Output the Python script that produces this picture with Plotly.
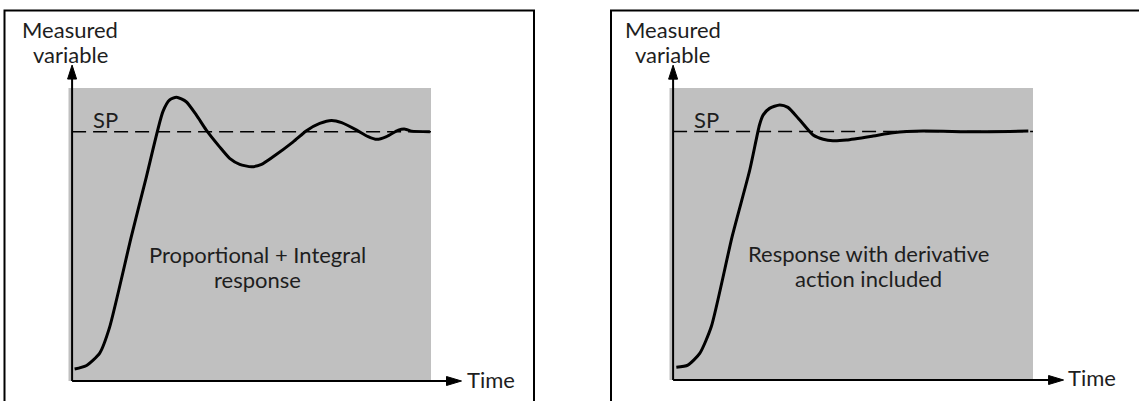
import plotly.graph_objects as go

# Proportional + Integral response (time, measured variable; SP = 1.0)
pi_time = [0.07, 0.39, 0.77, 1.04, 1.65, 2.07, 2.53, 2.72, 2.91, 3.18, 3.46, 3.74,
           4.11, 4.39, 4.67, 5.00, 5.28, 5.60, 6.16, 6.53, 6.90, 7.23, 7.51, 7.93,
           8.25, 8.49, 8.76, 9.09, 9.28, 9.46, 9.97]
pi_value = [0.048, 0.061, 0.112, 0.213, 0.579, 0.819, 1.080, 1.127, 1.138, 1.120,
            1.067, 1.006, 0.939, 0.893, 0.869, 0.859, 0.869, 0.899, 0.959, 1.004,
            1.033, 1.045, 1.036, 1.006, 0.980, 0.969, 0.980, 1.006, 1.010, 1.002,
            1.000]

# Response with derivative action included
pid_time = [0.09, 0.41, 0.74, 1.06, 1.64, 2.13, 2.40, 2.50, 2.68, 2.96, 3.19, 3.52,
            3.89, 4.17, 4.44, 4.82, 5.56, 6.11, 6.95, 8.34, 9.87]
pid_value = [0.051, 0.060, 0.107, 0.214, 0.577, 0.845, 1.026, 1.066, 1.093, 1.107,
             1.097, 1.046, 0.986, 0.969, 0.963, 0.966, 0.982, 0.995, 1.002, 0.999,
             1.002]

setpoint = 1.0
panel_titles = [["Proportional + Integral", "response"],
                ["Response with derivative", "action included"]]
y_label = ["Measured", "variable"]
x_label = "Time"
sp_label = "SP"

X_RANGE = [-0.1, 10.0]
Y_RANGE = [0.0, 1.175]
W, H = 1139, 401
FONT = "Lato"
FONT_SIZE = 22
TEXT_COLOR = "#1e1e1e"


def px_x(p):
    return p / W


def px_y(p):
    return (H - p) / H


fig = go.Figure()

for series_t, series_v, xa, ya in [(pi_time, pi_value, "x", "y"),
                                   (pid_time, pid_value, "x2", "y2")]:
    fig.add_trace(go.Scatter(x=series_t, y=series_v, mode="lines",
                             line=dict(color="black", width=3, shape="spline", smoothing=0.6),
                             xaxis=xa, yaxis=ya, showlegend=False, hoverinfo="skip"))

axis_style = dict(showgrid=False, zeroline=False, showticklabels=False, ticks="",
                  showline=False, fixedrange=True)

fig.update_layout(
    width=W, height=H,
    margin=dict(l=0, r=0, t=0, b=0),
    paper_bgcolor="white",
    plot_bgcolor="#c0c0c0",
    xaxis=dict(domain=[px_x(68.5), px_x(431)], range=X_RANGE, anchor="y", **axis_style),
    yaxis=dict(domain=[px_y(381), px_y(88)], range=Y_RANGE, anchor="x", **axis_style),
    xaxis2=dict(domain=[px_x(669.5), px_x(1033)], range=X_RANGE, anchor="y2", **axis_style),
    yaxis2=dict(domain=[px_y(380), px_y(88)], range=Y_RANGE, anchor="x2", **axis_style),
    font=dict(family=FONT, size=FONT_SIZE, color=TEXT_COLOR),
)

shapes = []
annotations = []

# Outer frames around each panel
shapes.append(dict(type="rect", xref="paper", yref="paper",
                   x0=px_x(4.5), x1=px_x(534), y0=-0.2, y1=px_y(10.5),
                   line=dict(color="black", width=2), fillcolor="rgba(0,0,0,0)"))
shapes.append(dict(type="rect", xref="paper", yref="paper",
                   x0=px_x(611), x1=1.2, y0=-0.2, y1=px_y(10.5),
                   line=dict(color="black", width=2), fillcolor="rgba(0,0,0,0)"))

x_tip = 10.85
y_tip = 1.267

# Per-panel text placement (pixel centres)
ylabel_cx = [70, 672.5]
title_cx = [257.3, 868]
title_cy = [(254.8, 279.8), (253.8, 278.8)]
time_left = [465, 1066]
time_cy = [379.8, 377.2]
sp_pos = [(0.917, 1.047), (0.93, 1.047)]

for i, suffix in enumerate(["", "2"]):
    xr = "x" + suffix
    yr = "y" + suffix
    fx0 = (0 - X_RANGE[0]) / (X_RANGE[1] - X_RANGE[0])
    fx_tip = (x_tip - X_RANGE[0]) / (X_RANGE[1] - X_RANGE[0])
    fy_tip = (y_tip - Y_RANGE[0]) / (Y_RANGE[1] - Y_RANGE[0])

    # Set-point dashed line
    shapes.append(dict(type="line", xref=xr, yref=yr, x0=0, x1=X_RANGE[1],
                       y0=setpoint, y1=setpoint, layer="below",
                       line=dict(color="black", width=1.5, dash="14px,7px")))

    # Axes with arrowheads
    shapes.append(dict(type="line", xref=xr + " domain", yref=yr + " domain",
                       x0=fx0, x1=fx0, y0=0, y1=fy_tip - 0.02,
                       line=dict(color="black", width=2)))
    shapes.append(dict(type="line", xref=xr + " domain", yref=yr + " domain",
                       x0=fx0, x1=fx_tip - 0.02, y0=0, y1=0,
                       line=dict(color="black", width=2)))
    shapes.append(dict(type="path", xref=xr + " domain", yref=yr + " domain",
                       xsizemode="pixel", ysizemode="pixel",
                       xanchor=fx0, yanchor=fy_tip,
                       path="M0,0 L-4.5,-14 L4.5,-14 Z",
                       fillcolor="black", line=dict(color="black", width=1)))
    shapes.append(dict(type="path", xref=xr + " domain", yref=yr + " domain",
                       xsizemode="pixel", ysizemode="pixel",
                       xanchor=fx_tip, yanchor=0,
                       path="M0,0 L-15,4.5 L-15,-4.5 Z",
                       fillcolor="black", line=dict(color="black", width=1)))

    # SP label
    annotations.append(dict(text=sp_label, xref=xr, yref=yr,
                            x=sp_pos[i][0], y=sp_pos[i][1],
                            showarrow=False, xanchor="center", yanchor="middle"))
    # Panel description, one annotation per line
    for line_text, cy in zip(panel_titles[i], title_cy[i]):
        annotations.append(dict(text=line_text, xref="paper", yref="paper",
                                x=px_x(title_cx[i]), y=px_y(cy), showarrow=False,
                                xanchor="center", yanchor="middle"))
    # Time axis label
    annotations.append(dict(text=x_label, xref="paper", yref="paper",
                            x=px_x(time_left[i]), y=px_y(time_cy[i]), showarrow=False,
                            xanchor="left", yanchor="middle"))
    # Vertical axis label
    for line_text, cy in zip(y_label, (29.8, 54.5)):
        annotations.append(dict(text=line_text, xref="paper", yref="paper",
                                x=px_x(ylabel_cx[i]), y=px_y(cy), showarrow=False,
                                xanchor="center", yanchor="middle"))

fig.update_layout(shapes=shapes, annotations=annotations)

fig.write_html("out.html")
